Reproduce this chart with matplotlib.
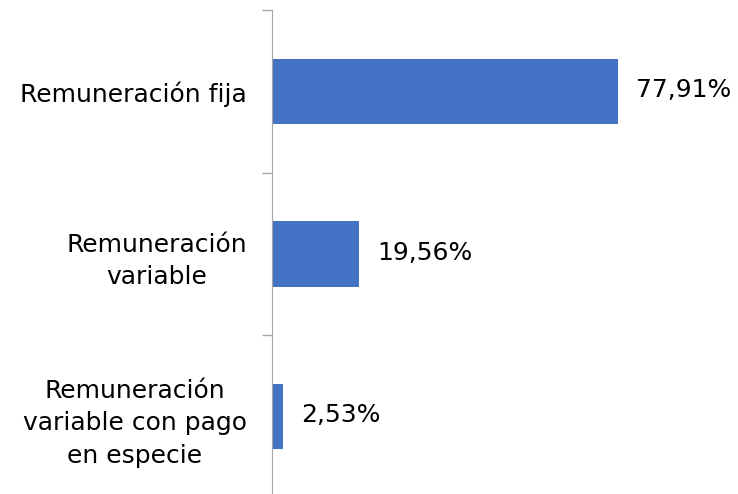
import matplotlib.pyplot as plt
from matplotlib.ticker import FixedLocator
from matplotlib.transforms import ScaledTranslation

# datos del gráfico
categorias = ["Remuneración fija", "Remuneración\nvariable", "Remuneración\nvariable con pago\nen especie"]
valores = [77.91, 19.56, 2.53]
etiquetas = ["77,91%", "19,56%", "2,53%"]

plt.rcParams['font.family'] = ['DejaVu Sans']

fig = plt.figure(figsize=(7.38, 4.94), dpi=100)
ax = fig.add_axes([272/738, 0.0 - 4/494, 1 - 272/738, (494 - 10 + 4)/494])

pos = list(range(len(categorias)))
ax.barh(pos, valores, height=0.4, color="#4472C4")
ax.set_ylim(len(categorias) - 0.5, -0.5)
ax.set_xlim(0, 105)

#etiquetas de valores
for y, v, t in zip(pos, valores, etiquetas):
    ax.annotate(t, (v, y), xytext=(13, 1), textcoords="offset points",
                va="center", ha="left", fontsize=18, color="black")

#eje vertical: marcas en los limites de categoria
ax.set_yticks(pos)
ax.set_yticklabels(categorias, fontsize=18, linespacing=1.45)
decal = ScaledTranslation(0, 4/100, fig.dpi_scale_trans)
for lab in ax.get_yticklabels():
    lab.set_multialignment("center")
    lab.set_transform(lab.get_transform() + decal)
ax.tick_params(axis="y", which="major", length=0, pad=18)
ax.yaxis.set_minor_locator(FixedLocator([-0.5, 0.5, 1.5, 2.5]))
ax.tick_params(axis="y", which="minor", length=7, color="#A6A6A6", width=1)

ax.set_xticks([])
for s in ["top", "right", "bottom"]:
    ax.spines[s].set_visible(False)
ax.spines["left"].set_color("#A6A6A6")

fig.savefig("out.png", dpi=100)
